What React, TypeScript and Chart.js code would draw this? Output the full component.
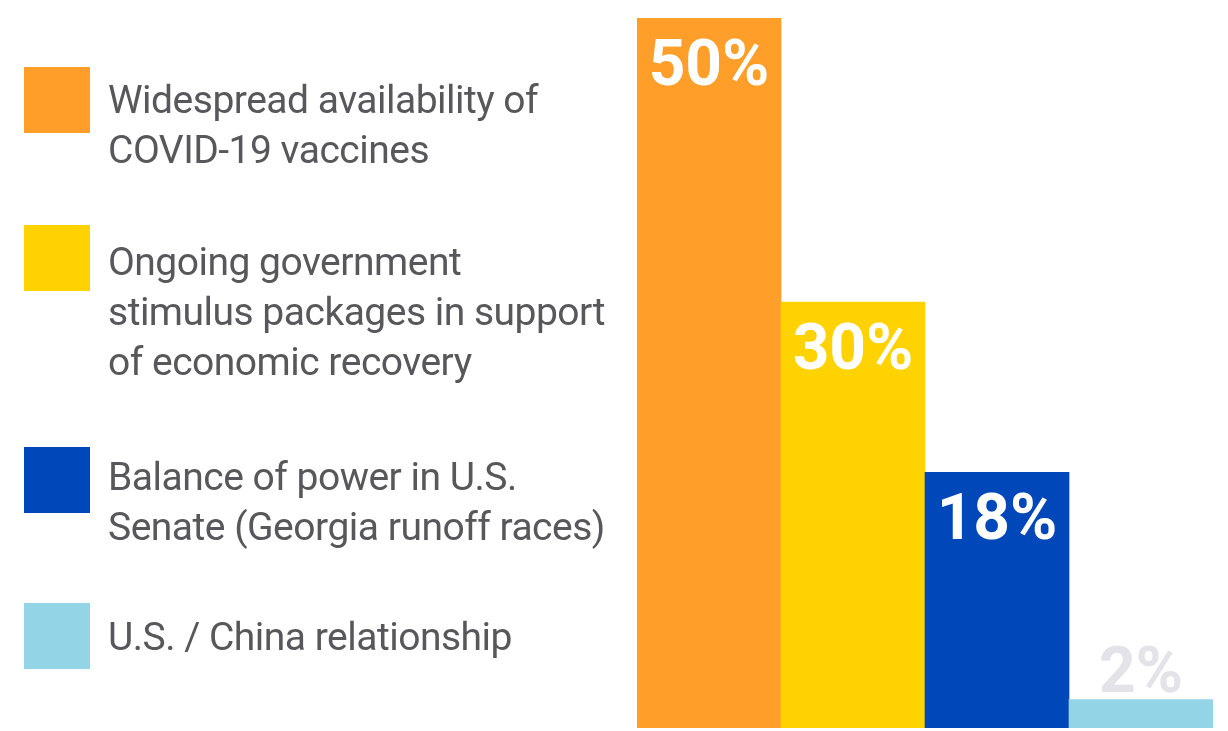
import React, { useEffect, useRef } from "react";
import { Chart, registerables } from "chart.js";

Chart.register(...registerables);

const categories = [
  ["Widespread availability of", "COVID-19 vaccines"],
  ["Ongoing government", "stimulus packages in support", "of economic recovery"],
  ["Balance of power in U.S.", "Senate (Georgia runoff races)"],
  ["U.S. / China relationship"],
];
const values = [50, 30, 18, 2];
const colors = ["#FF9F2A", "#FFD200", "#0047BA", "#93D4E7"];
const valueLabels = ["50%", "30%", "18%", "2%"];

const legendSquareTops = [67, 225, 447, 603];
const legendTextCenters = [100, 262, 477, 637];

const labelPlugin = {
  id: "barLabels",
  afterDatasetsDraw(chart: any) {
    const ctx = chart.ctx;
    const meta = chart.getDatasetMeta(0);
    ctx.save();
    ctx.font = "700 64px Roboto";
    ctx.textAlign = "center";
    meta.data.forEach((bar: any, i: number) => {
      const v = values[i];
      if (v >= 10) {
        ctx.fillStyle = "#ffffff";
        ctx.textBaseline = "alphabetic";
        ctx.fillText(valueLabels[i], bar.x, bar.y + 67);
      } else {
        ctx.fillStyle = "#E3E3E9";
        ctx.textBaseline = "alphabetic";
        ctx.fillText(valueLabels[i], bar.x, bar.y - 8);
      }
    });
    ctx.restore();
  },
};

export default function App() {
  const ref = useRef<HTMLCanvasElement>(null);
  useEffect(() => {
    if (!ref.current) return;
    const chart = new Chart(ref.current, {
      type: "bar",
      data: {
        labels: categories.map((c) => c.join(" ")),
        datasets: [
          {
            data: values,
            backgroundColor: colors,
            borderWidth: 0,
            categoryPercentage: 1,
            barPercentage: 1,
          },
        ],
      },
      options: {
        animation: false,
        responsive: true,
        maintainAspectRatio: false,
        layout: { padding: { left: 637, right: 15, top: 18, bottom: 3 } },
        plugins: { legend: { display: false }, tooltip: { enabled: false } },
        scales: {
          x: { display: false },
          y: { display: false, min: 0, max: 50 },
        },
      },
      plugins: [labelPlugin],
    });
    return () => chart.destroy();
  }, []);

  return (
    <div
      style={{
        position: "fixed",
        left: 0,
        top: 0,
        width: 1228,
        height: 731,
        background: "#ffffff",
        fontFamily: "Roboto, sans-serif",
      }}
    >
      <canvas ref={ref} style={{ position: "absolute", left: 0, top: 0 }} />
      {categories.map((lines, i) => (
        <React.Fragment key={i}>
          <div
            style={{
              position: "absolute",
              left: 24,
              top: legendSquareTops[i],
              width: 66,
              height: 66,
              background: colors[i],
            }}
          />
          <div
            style={{
              position: "absolute",
              left: 108,
              top: legendTextCenters[i] - 25,
              fontSize: 39,
              lineHeight: "50px",
              color: "#58585C",
              letterSpacing: "-0.5px",
              whiteSpace: "nowrap",
            }}
          >
            {lines.map((l, j) => (
              <div key={j}>{l}</div>
            ))}
          </div>
        </React.Fragment>
      ))}
    </div>
  );
}
